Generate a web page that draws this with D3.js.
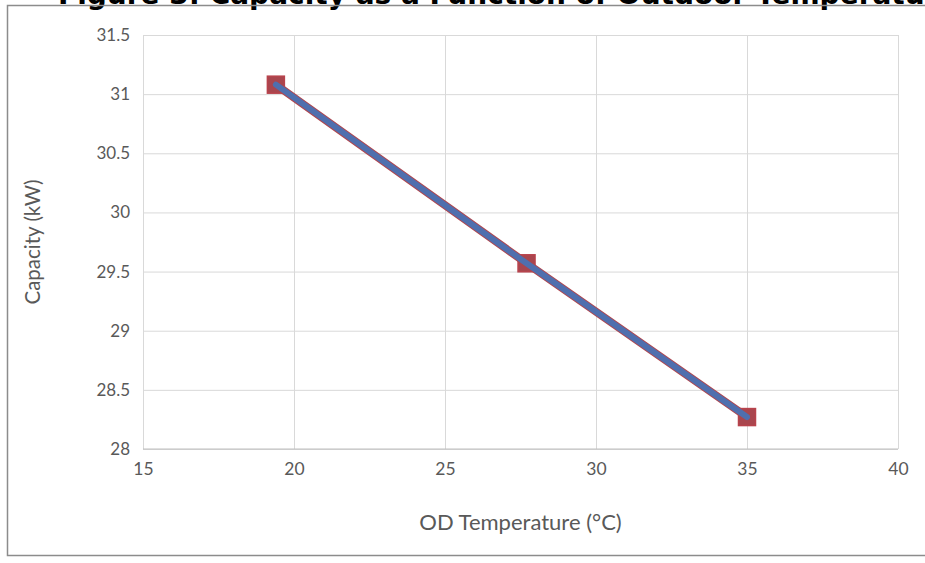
<!DOCTYPE html>
<html>
<head>
<meta charset="utf-8">
<script src="https://cdn.jsdelivr.net/npm/d3@7"></script>
<style>
  html, body { margin: 0; padding: 0; background: #fff; }
  svg { display: block; }
</style>
</head>
<body>
<script>
// Capacity versus outdoor temperature
const figureTitle = "Figure 3: Capacity as a Function of Outdoor Temperature";
const xLabel = "OD Temperature (°C)";
const yLabel = "Capacity (kW)";
const odTemperature = [19.4, 27.7, 35];
const capacityKW = [31.08, 29.57, 28.27];
const xTicks = [15, 20, 25, 30, 35, 40];
const yTicks = [28, 28.5, 29, 29.5, 30, 30.5, 31, 31.5];

const W = 925, H = 563;
const plot = { left: 143, right: 898, top: 35, bottom: 449 };

const svg = d3.select("body").append("svg")
  .attr("width", W).attr("height", H);

// Figure caption sitting above the chart frame (its upper part runs off the page)
svg.append("text")
  .attr("x", 58).attr("y", 4)
  .attr("font-family", "DejaVu Sans, sans-serif")
  .attr("font-weight", "bold")
  .attr("font-size", 28)
  .attr("fill", "#000")
  .text(figureTitle);

// Chart frame
svg.append("rect")
  .attr("x", 7.5).attr("y", 5.5)
  .attr("width", W + 10).attr("height", 550)
  .attr("fill", "none")
  .attr("stroke", "#8c8c8c")
  .attr("stroke-width", 1.5);

const x = d3.scaleLinear().domain([15, 40]).range([plot.left, plot.right]);
const y = d3.scaleLinear().domain([28, 31.5]).range([plot.bottom, plot.top]);

const font = "Lato, 'Open Sans', sans-serif";
const grey = "#595959";

// Horizontal gridlines
svg.append("g")
  .attr("transform", `translate(${plot.left},0)`)
  .call(d3.axisLeft(y).tickValues(yTicks).tickSize(-(plot.right - plot.left)).tickFormat(""))
  .call(g => g.select(".domain").remove())
  .call(g => g.selectAll("line").attr("stroke", "#d9d9d9").attr("stroke-width", 1));

// Vertical gridlines
svg.append("g")
  .attr("transform", `translate(0,${plot.bottom})`)
  .call(d3.axisBottom(x).tickValues(xTicks).tickSize(-(plot.bottom - plot.top)).tickFormat(""))
  .call(g => g.select(".domain").remove())
  .call(g => g.selectAll("line").attr("stroke", "#d9d9d9").attr("stroke-width", 1));

// Baseline
svg.append("line")
  .attr("x1", plot.left).attr("x2", plot.right)
  .attr("y1", y(28)).attr("y2", y(28))
  .attr("stroke", "#bfbfbf").attr("stroke-width", 1.2);

// Y tick labels
svg.append("g")
  .attr("transform", `translate(${plot.left - 10},0)`)
  .call(d3.axisLeft(y).tickValues(yTicks).tickSize(0).tickFormat(d3.format("")))
  .call(g => g.select(".domain").remove())
  .call(g => g.selectAll("text")
    .attr("font-family", font).attr("font-size", 17).attr("fill", grey));

// X tick labels
svg.append("g")
  .attr("transform", `translate(0,${plot.bottom + 11})`)
  .call(d3.axisBottom(x).tickValues(xTicks).tickSize(0).tickFormat(d3.format("")))
  .call(g => g.select(".domain").remove())
  .call(g => g.selectAll("text")
    .attr("font-family", font).attr("font-size", 17.5).attr("fill", grey));

// Axis titles
svg.append("text")
  .attr("x", (plot.left + plot.right) / 2).attr("y", 530)
  .attr("text-anchor", "middle")
  .attr("font-family", font).attr("font-size", 22).attr("fill", grey)
  .text(xLabel);

svg.append("text")
  .attr("transform", `translate(40,${(plot.top + plot.bottom) / 2}) rotate(-90)`)
  .attr("text-anchor", "middle")
  .attr("font-family", font).attr("font-size", 20.5).attr("fill", grey)
  .text(yLabel);

const pts = odTemperature.map((t, i) => [t, capacityKW[i]]);
const line = d3.line().x(d => x(d[0])).y(d => y(d[1]));

// Red series: line and square markers
svg.append("path")
  .datum(pts)
  .attr("d", line)
  .attr("fill", "none")
  .attr("stroke", "#b0474f")
  .attr("stroke-width", 8);

svg.selectAll("rect.marker")
  .data(pts)
  .enter().append("rect")
  .attr("class", "marker")
  .attr("x", d => x(d[0]) - 8.5).attr("y", d => y(d[1]) - 8.5)
  .attr("width", 17).attr("height", 17)
  .attr("fill", "#a9464e")
  .attr("stroke", "#b8434c")
  .attr("stroke-width", 1.5);

// Blue series drawn over the same points
svg.append("path")
  .datum(pts)
  .attr("d", line)
  .attr("fill", "none")
  .attr("stroke", "#4f6fae")
  .attr("stroke-width", 6)
  .attr("stroke-linecap", "round");
</script>
</body>
</html>
